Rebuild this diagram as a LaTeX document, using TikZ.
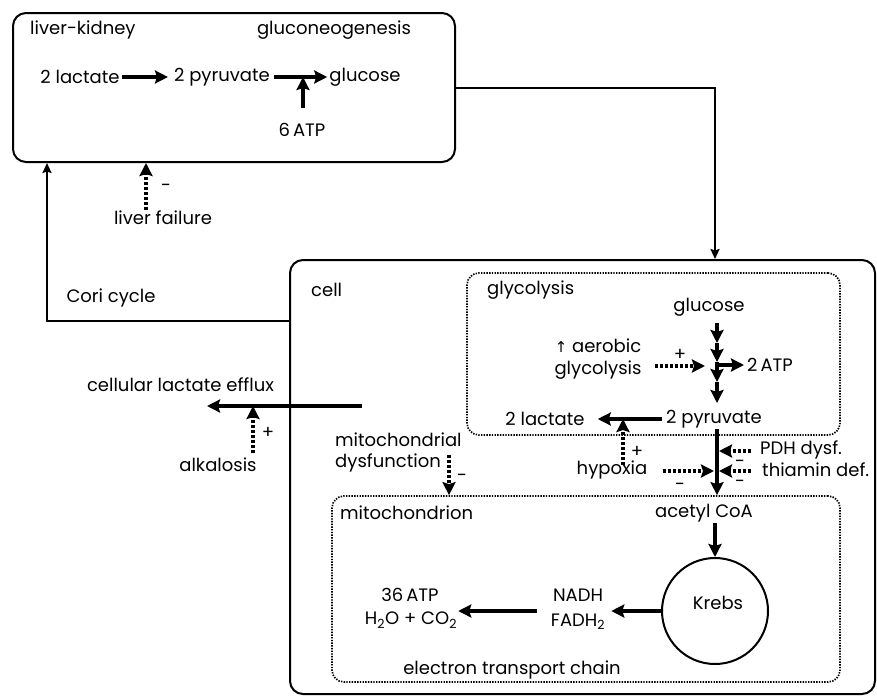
\documentclass[tikz,border=0pt]{standalone}
\usepackage{fontspec}
\setmainfont{Poppins}
\newfontfamily\symfont{DejaVu Sans}
\usetikzlibrary{arrows.meta,calc}

\tikzset{
  box/.style={draw, line width=2pt, rounded corners=13pt, inner sep=0pt},
  dotbox/.style={draw, line width=1.7pt, dash pattern=on 1.4pt off 1.3pt, rounded corners=12pt, inner sep=0pt},
  conn/.style={line width=2pt, -{Stealth[length=10pt,width=9pt,inset=1.5pt]}},
  flow/.style={line width=3.3pt, -{Stealth[length=13pt,width=13pt,inset=2pt]}},
  inh/.style={line width=3.3pt, dash pattern=on 2.8pt off 2.2pt, -{Stealth[length=13pt,width=13pt,inset=2pt]}},
  txt/.style={inner sep=1pt, font=\fontsize{18}{20}\selectfont},
  sgn/.style={inner sep=0pt, font=\fontsize{18}{20}\selectfont},
}

\begin{document}
\begin{tikzpicture}[x=1pt, y=-1pt]
\useasboundingbox (0,0) rectangle (877,696);

% ---------- compartments ----------
\node[box, minimum width=442pt, minimum height=149pt] (liver) at (234,87.5) {};
\node[box, minimum width=585pt, minimum height=434pt] (cell) at (582.5,477) {};
\node[dotbox, minimum width=373pt, minimum height=162pt] (glyco) at (653.5,354) {};
\node[dotbox, minimum width=508pt, minimum height=186pt] (mito) at (586,589) {};
\node[draw, circle, line width=2pt, minimum size=106pt, inner sep=0pt] (krebs) at (715,611) {};
\node[txt] (krebstxt) at (718,603) {Krebs};

% ---------- liver / kidney ----------
\node[txt, anchor=west] (lk) at (29,30) {liver-kidney};
\node[txt] (gng) at (334,30) {gluconeogenesis};
\node[txt] (lacA) at (80,77) {2 lactate};
\node[txt] (pyrA) at (222,77) {2 pyruvate};
\node[txt] (glcA) at (365,77) {glucose};
\node[txt] (atpA) at (302,130) {6\,ATP};
\node[txt] (lfail) at (163,218) {liver failure};
\node[sgn] (lfailsg) at (166,188) {-};
\node[txt] (cori) at (111,298) {Cori cycle};

\draw[flow, shorten <=1pt, shorten >=5pt] (lacA.east) -- (pyrA.west);
\draw[flow, shorten <=3pt, shorten >=1pt] (pyrA.east) -- (glcA.west);
\coordinate (atpT) at (303,108);
\draw[flow] (atpT) -- (atpT |- pyrA.east);
\coordinate (lfA) at ([xshift=-17pt]lfail.north);
\draw[inh] (lfA) -- (lfA |- liver.south);

% ---------- connectors between compartments ----------
\draw[conn] ($(cell.north west)+(0,62)$) -| ($(liver.south west)+(35,0)$);
\draw[conn] (liver.east) -| ($(cell.north west)+(426,0)$);

% ---------- cell ----------
\node[txt, anchor=west] (celltxt) at (310,290) {cell};
\node[txt] (efflux) at (180.5,385) {cellular lactate efflux};
\node[txt] (alk) at (218,465) {alkalosis};
\node[sgn] (alksg) at (268,433) {+};
\coordinate (effA) at (362,406);
\coordinate (effB) at (207,406);
\draw[flow] (effA) -- (effB);
\coordinate (alkA) at (253,453);
\draw[inh] (alkA) -- (alkA |- effA);

\node[txt, anchor=west] (mdys1) at (334,440) {mitochondrial};
\node[txt, anchor=west] (mdys2) at (334,463) {dysfunction};
\node[sgn] (mdyssg) at (462,478) {-};
\coordinate (mdA) at (449,455);
\draw[inh] (mdA) -- (mdA |- mito.north);

% ---------- glycolysis ----------
\node[txt, anchor=west] (glytxt) at (486,290) {glycolysis};
\node[txt] (glcB) at (709,307) {glucose};
\node[txt] (aer1) at (598,346) {{\symfont\fontsize{15}{17}\selectfont ↑} aerobic};
\node[txt] (aer2) at (598,370) {glycolysis};
\node[sgn] (aersg) at (680,355) {+};
\node[txt, anchor=west] (atpB) at (746,365) {2\,ATP};
\node[txt] (pyrB) at (714,419) {2 pyruvate};
\node[txt] (lacB) at (545,419) {2 lactate};

\coordinate (g0) at (717,323);
\coordinate (g1) at (717,343);
\coordinate (g2) at (717,362);
\coordinate (g3) at (717,382);
\coordinate (g4) at (717,403);
\draw[flow] (g0) -- (g1);
\draw[flow] (g1) -- (g2);
\draw[flow] (g2) -- (g3);
\draw[flow] (g3) -- (g4);
\draw[flow, shorten >=2pt] (g1 |- atpB.west) -- (atpB.west);
\coordinate (aerA) at (655,366);
\draw[inh] (aerA) -- ($(g1 |- aerA)+(-12,0)$);

\draw[flow, shorten <=3pt, shorten >=12pt] (pyrB.west) -- (lacB.east);

% ---------- pyruvate to mitochondrion ----------
\node[txt] (hyp) at (612,470) {hypoxia};
\node[sgn] (hypsg1) at (637,452) {+};
\node[sgn] (hypsg2) at (680,487) {-};
\node[txt, anchor=west] (pdh) at (759,450) {PDH dysf.};
\node[txt, anchor=west] (thi) at (761,470) {thiamin def.};
\node[sgn] (pdhsg) at (740,464) {-};
\node[sgn] (thisg) at (740,484) {-};

\coordinate (hypA) at (623,465);
\draw[inh] (hypA) -- (hypA |- pyrB.west);
\draw[flow] (pyrB.south -| g1) -- (g1 |- mito.north);
\coordinate (hypB) at (663,471);
\draw[inh, shorten >=3pt] (hypB) -- (hypB -| g1);
\coordinate (pdhA) at (751,451);
\draw[inh, shorten >=2pt] (pdhA) -- (pdhA -| g1);
\coordinate (thiA) at (751,471);
\draw[inh, shorten >=2pt] (thiA) -- (thiA -| g1);

% ---------- mitochondrion ----------
\node[txt, anchor=west] (mitotxt) at (339,513) {mitochondrion};
\node[txt] (acoa) at (704,513) {acetyl CoA};
\node[txt] (nadh) at (578,595) {NADH};
\node[txt] (fadh) at (578,622) {FADH\textsubscript{2}};
\node[txt] (atp36) at (410,595) {36\,ATP};
\node[txt] (h2o) at (411,620) {H\textsubscript{2}O + CO\textsubscript{2}};
\node[txt] (etc) at (512,670) {electron transport chain};

\draw[flow] (acoa.south -| krebs.north) -- (krebs.north);
\draw[flow, shorten >=5pt] (krebs.west) -- (fadh.east |- krebs.west);
\coordinate (etA) at (537,611);
\draw[flow] (etA) -- (h2o.east |- etA);
\end{tikzpicture}
\end{document}
